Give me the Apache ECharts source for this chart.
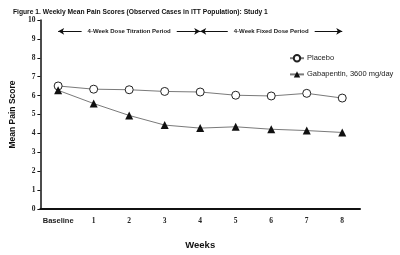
<!DOCTYPE html>
<html><head><meta charset="utf-8">
<script src="https://cdn.jsdelivr.net/npm/echarts@6/dist/echarts.min.js"></script>
<style>html,body{margin:0;padding:0;background:#fff}#c{width:400px;height:255px}</style>
</head><body><div id="c"></div>
<script>
const categories = ['Baseline','1','2','3','4','5','6','7','8'];
const placebo = [6.51, 6.34, 6.31, 6.22, 6.19, 6.02, 5.98, 6.12, 5.87];
const gabapentin = [6.28, 5.58, 4.95, 4.44, 4.28, 4.35, 4.22, 4.15, 4.05];
const yTicks = [0,1,2,3,4,5,6,7,8,9,10];
const periodY = 9.4;
const periods = [
  {name:'4-Week Dose Titration Period', from:'Baseline', to:'4'},
  {name:'4-Week Fixed Dose Period', from:'4', to:'8'}
];

const chart = echarts.init(document.getElementById('c'), null, {renderer:'canvas'});
const lineGrey = '#7a7a7a';
chart.setOption({
  animation:false,
  backgroundColor:'#fff',
  title:{
    text:'Figure 1. Weekly Mean Pain Scores (Observed Cases in ITT Population): Study 1',
    left:8, top:4,
    textStyle:{fontFamily:'Liberation Sans Narrow, Arial Narrow, Liberation Sans, sans-serif', fontWeight:'bold', fontSize:6.7, color:'#111'}
  },
  legend:{
    orient:'vertical', left:284, top:49, itemGap:8, itemWidth:14, itemHeight:8,
    textStyle:{fontFamily:'Liberation Sans, Arial, sans-serif', fontSize:7.5, color:'#222', padding:[0,0,0,-2]},
    data:['Placebo','Gabapentin, 3600 mg/day']
  },
  grid:{left:36, right:40, top:20, bottom:39},
  xAxis:{
    type:'category', data:categories, boundaryGap:true,
    name:'Weeks', nameLocation:'middle', nameGap:31,
    nameTextStyle:{fontFamily:'Liberation Sans, Arial, sans-serif', fontWeight:'bold', fontSize:9.5, color:'#111'},
    axisLine:{lineStyle:{color:'#111', width:2}},
    axisTick:{show:false},
    axisLabel:{interval:0, margin:8, fontWeight:'bold', fontSize:7, color:'#222',
      formatter:v=> v==='Baseline' ? '{b|'+v+'}' : '{n|'+v+'}',
      rich:{b:{fontFamily:'Liberation Sans, Arial, sans-serif', fontWeight:'bold', fontSize:7.5, color:'#222'},
            n:{fontFamily:'Liberation Serif, Times New Roman, serif', fontWeight:'bold', fontSize:7.5, color:'#222'}}},
    splitLine:{show:false}
  },
  yAxis:{
    type:'value', min:yTicks[0], max:yTicks[yTicks.length-1], interval:1,
    name:'Mean Pain Score', nameLocation:'middle', nameGap:18, nameRotate:90,
    nameTextStyle:{fontFamily:'Liberation Sans, Arial, sans-serif', fontWeight:'bold', fontSize:8.5, color:'#111'},
    axisLine:{show:true, lineStyle:{color:'#111', width:1.5}},
    axisTick:{show:true, length:3, lineStyle:{color:'#111', width:1}},
    axisLabel:{margin:5, fontFamily:'Liberation Serif, Times New Roman, serif', fontWeight:'bold', fontSize:7.5, color:'#222'},
    splitLine:{show:false}
  },
  series:[
    {
      name:'Placebo', type:'line', data:placebo,
      symbol:'circle', symbolSize:8,
      lineStyle:{color:lineGrey, width:1},
      itemStyle:{color:'#fff', borderColor:'#222', borderWidth:1},
      z:3,
      markLine:{
        silent:true, symbol:['arrow','arrow'], symbolSize:[5,6],
        lineStyle:{color:'#111', width:1, type:'solid'},
        label:{show:true, position:'insideMiddle', formatter:'{b}', backgroundColor:'#fff', padding:[0,6],
          fontFamily:'Liberation Sans, Arial, sans-serif', fontWeight:'bold', fontSize:6, color:'#222'},
        data: periods.map(p=>[{name:p.name, coord:[p.from, periodY]}, {coord:[p.to, periodY]}])
      }
    },
    {
      name:'Gabapentin, 3600 mg/day', type:'line', data:gabapentin,
      symbol:'triangle', symbolSize:8,
      lineStyle:{color:lineGrey, width:1},
      itemStyle:{color:'#111', borderColor:'#111', borderWidth:0},
      z:3
    }
  ]
});
</script></body></html>
